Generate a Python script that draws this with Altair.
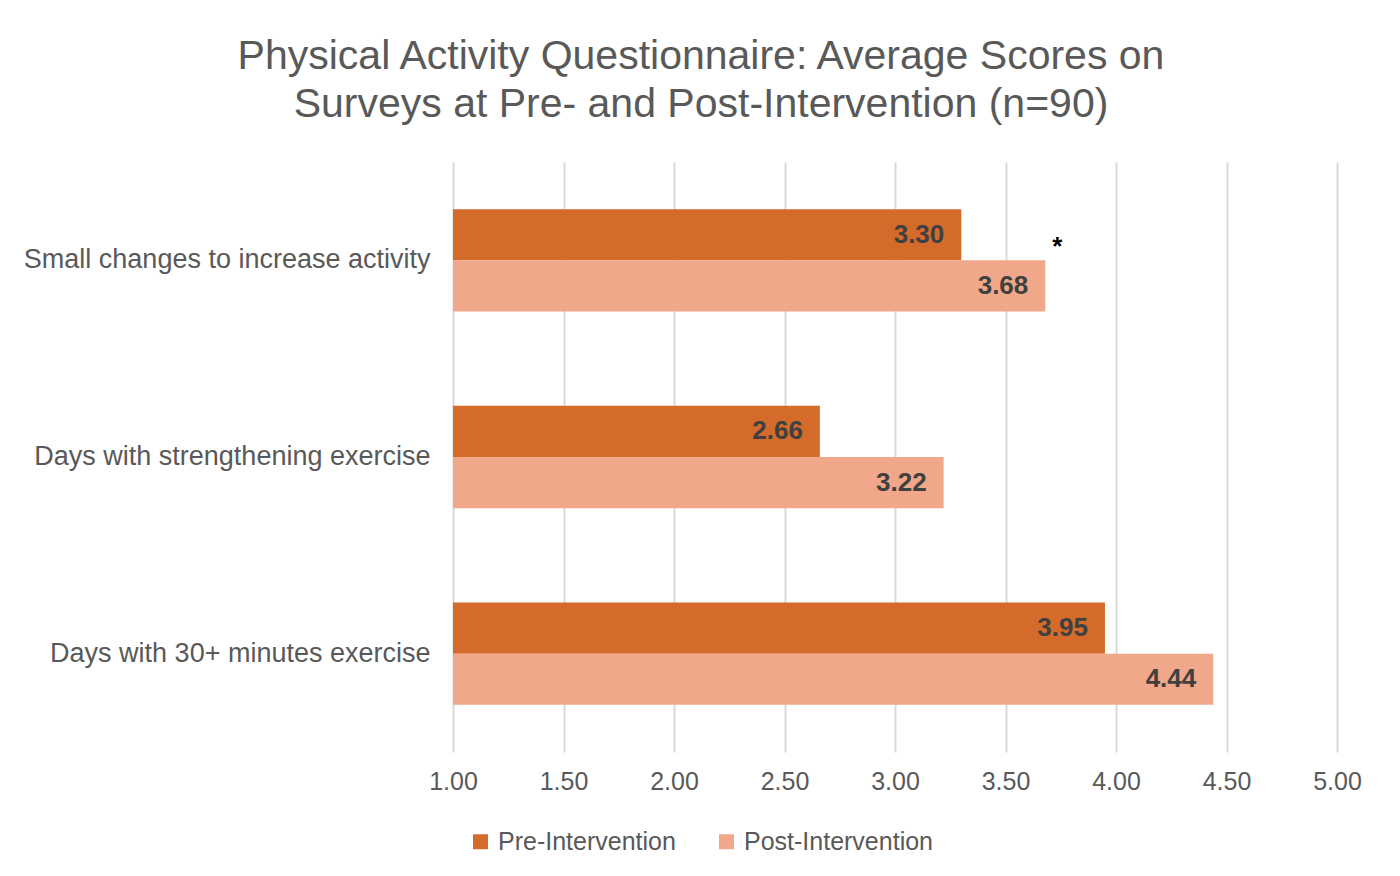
import altair as alt
import pandas as pd

categories = ["Small changes to increase activity", "Days with strengthening exercise", "Days with 30+ minutes exercise"]
series = ["Pre-Intervention", "Post-Intervention"]
pre_values = [3.30, 2.66, 3.95]
post_values = [3.68, 3.22, 4.44]
colors = ["#D46B2B", "#F1A789"]
x_ticks = [1.0, 1.5, 2.0, 2.5, 3.0, 3.5, 4.0, 4.5, 5.0]
star_category = "Small changes to increase activity"
star_value = 3.68

rows = []
for c, a, b in zip(categories, pre_values, post_values):
    rows.append({"category": c, "series": series[0], "value": a})
    rows.append({"category": c, "series": series[1], "value": b})
df = pd.DataFrame(rows)
star_df = pd.DataFrame([{"category": star_category, "series": series[0], "value": star_value, "label": "*"}])

FONT = "Liberation Sans"
GRAY = "#595959"

y_enc = alt.Y("category:N", sort=categories, title=None,
              scale=alt.Scale(paddingInner=0.48, paddingOuter=0.24),
              axis=alt.Axis(labelFontSize=27, labelColor=GRAY, labelFont=FONT,
                            labelPadding=23, labelLimit=600, ticks=False, domain=False))
yoff = alt.YOffset("series:N", sort=series, scale=alt.Scale(paddingInner=0, paddingOuter=0))
x_enc = alt.X("value:Q", title=None,
              scale=alt.Scale(domain=[1, 5], zero=False, nice=False),
              axis=alt.Axis(values=x_ticks, format=".2f", labelFontSize=25, labelColor=GRAY,
                            labelFont=FONT, labelPadding=17, labelFlush=False, labelOverlap=False,
                            ticks=False, domain=False,
                            grid=True, gridColor="#D9D9D9", gridWidth=2))

bars = alt.Chart(df).mark_bar().encode(
    y=y_enc, yOffset=yoff, x=x_enc, x2=alt.datum(1),
    color=alt.Color("series:N", sort=series,
                    scale=alt.Scale(domain=series, range=colors),
                    legend=alt.Legend(title=None, orient="none", legendX=15, legendY=667,
                                      direction="horizontal", symbolType="square",
                                      symbolSize=225, symbolStrokeWidth=0,
                                      labelFontSize=25, labelColor=GRAY, labelFont=FONT,
                                      labelLimit=400, labelOffset=5, columnPadding=38)),
)

labels = alt.Chart(df).mark_text(align="right", baseline="middle", dx=-17, fontSize=26,
                                 fontWeight="bold", color="#404040", font=FONT).encode(
    y=alt.Y("category:N", sort=categories), yOffset=alt.YOffset("series:N", sort=series),
    x=alt.X("value:Q"), text=alt.Text("value:Q", format=".2f"),
)

star = alt.Chart(star_df).mark_text(align="center", baseline="middle", dx=12, dy=12, fontSize=26,
                                   fontWeight="bold", color="#000000", font=FONT).encode(
    y=alt.Y("category:N", sort=categories), yOffset=alt.YOffset("series:N", sort=series),
    x=alt.X("value:Q"), text="label:N",
)

chart = alt.layer(bars, labels, star).properties(
    width=884, height=590,
    title=alt.TitleParams(
        text=["Physical Activity Questionnaire: Average Scores on",
              "Surveys at Pre- and Post-Intervention (n=90)"],
        fontSize=41, font=FONT, fontWeight="normal", color=GRAY,
        anchor="middle", dx=-194, offset=36, lineHeight=48),
    autosize=alt.AutoSizeParams(type="none"),
    padding={"left": 445, "top": 154, "right": 55, "bottom": 116},
).configure_view(stroke=None)

chart.save("out.html", embed_options={"renderer": "svg", "actions": False})
